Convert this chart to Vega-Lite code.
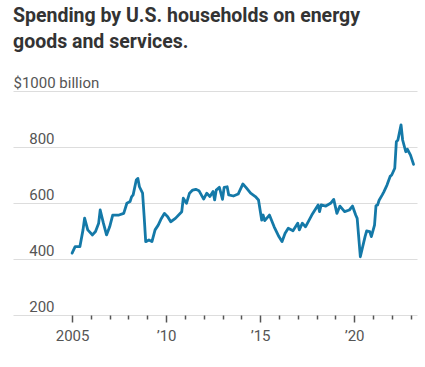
{
  "$schema": "https://vega.github.io/schema/vega-lite/v6.json",
  "width": 404,
  "height": 224,
  "autosize": "none",
  "padding": {"left": 13, "top": 91, "right": 8, "bottom": 52},
  "background": "white",
  "config": {"view": {"stroke": null}},
  "title": {
    "text": ["Spending by U.S. households on energy", "goods and services."],
    "font": "Roboto",
    "fontSize": 19.5,
    "fontWeight": "bold",
    "color": "#333333",
    "lineHeight": 26,
    "anchor": "start",
    "frame": "group",
    "offset": 23
  },
  "data": {
    "values": [
      {"date": "2005-01-01", "value": 421},
      {"date": "2005-03-01", "value": 444},
      {"date": "2005-06-01", "value": 444},
      {"date": "2005-08-01", "value": 504},
      {"date": "2005-09-01", "value": 546},
      {"date": "2005-11-01", "value": 504},
      {"date": "2006-02-01", "value": 486},
      {"date": "2006-04-01", "value": 498},
      {"date": "2006-06-01", "value": 528},
      {"date": "2006-07-01", "value": 575},
      {"date": "2006-09-01", "value": 528},
      {"date": "2006-11-01", "value": 486},
      {"date": "2007-01-01", "value": 515},
      {"date": "2007-03-01", "value": 557},
      {"date": "2007-07-01", "value": 557},
      {"date": "2007-10-01", "value": 563},
      {"date": "2007-12-01", "value": 599},
      {"date": "2008-02-01", "value": 605},
      {"date": "2008-03-01", "value": 622},
      {"date": "2008-04-01", "value": 629},
      {"date": "2008-06-01", "value": 682},
      {"date": "2008-07-01", "value": 688},
      {"date": "2008-08-01", "value": 658},
      {"date": "2008-10-01", "value": 635},
      {"date": "2008-11-01", "value": 551},
      {"date": "2008-12-01", "value": 462},
      {"date": "2009-02-01", "value": 468},
      {"date": "2009-04-01", "value": 462},
      {"date": "2009-06-01", "value": 504},
      {"date": "2009-08-01", "value": 521},
      {"date": "2009-10-01", "value": 545},
      {"date": "2009-12-01", "value": 563},
      {"date": "2010-02-01", "value": 551},
      {"date": "2010-04-01", "value": 533},
      {"date": "2010-07-01", "value": 545},
      {"date": "2010-11-01", "value": 569},
      {"date": "2010-12-01", "value": 617},
      {"date": "2011-02-01", "value": 599},
      {"date": "2011-04-01", "value": 635},
      {"date": "2011-06-01", "value": 646},
      {"date": "2011-08-01", "value": 649},
      {"date": "2011-10-01", "value": 644},
      {"date": "2012-01-01", "value": 614},
      {"date": "2012-03-01", "value": 635},
      {"date": "2012-05-01", "value": 623},
      {"date": "2012-07-01", "value": 641},
      {"date": "2012-08-01", "value": 611},
      {"date": "2012-09-01", "value": 646},
      {"date": "2012-11-01", "value": 656},
      {"date": "2013-01-01", "value": 613},
      {"date": "2013-02-01", "value": 656},
      {"date": "2013-04-01", "value": 658},
      {"date": "2013-05-01", "value": 629},
      {"date": "2013-08-01", "value": 625},
      {"date": "2013-11-01", "value": 632},
      {"date": "2014-02-01", "value": 668},
      {"date": "2014-04-01", "value": 656},
      {"date": "2014-07-01", "value": 635},
      {"date": "2014-10-01", "value": 623},
      {"date": "2014-12-01", "value": 611},
      {"date": "2015-02-01", "value": 539},
      {"date": "2015-03-01", "value": 557},
      {"date": "2015-04-01", "value": 537},
      {"date": "2015-07-01", "value": 557},
      {"date": "2015-10-01", "value": 515},
      {"date": "2016-01-01", "value": 480},
      {"date": "2016-03-01", "value": 462},
      {"date": "2016-05-01", "value": 492},
      {"date": "2016-07-01", "value": 510},
      {"date": "2016-10-01", "value": 501},
      {"date": "2017-01-01", "value": 528},
      {"date": "2017-02-01", "value": 504},
      {"date": "2017-04-01", "value": 528},
      {"date": "2017-06-01", "value": 515},
      {"date": "2017-10-01", "value": 557},
      {"date": "2018-02-01", "value": 593},
      {"date": "2018-03-01", "value": 569},
      {"date": "2018-04-01", "value": 593},
      {"date": "2018-07-01", "value": 589},
      {"date": "2018-10-01", "value": 599},
      {"date": "2018-12-01", "value": 613},
      {"date": "2019-02-01", "value": 563},
      {"date": "2019-04-01", "value": 589},
      {"date": "2019-07-01", "value": 569},
      {"date": "2019-10-01", "value": 575},
      {"date": "2019-12-01", "value": 589},
      {"date": "2020-02-01", "value": 557},
      {"date": "2020-03-01", "value": 545},
      {"date": "2020-05-01", "value": 408},
      {"date": "2020-08-01", "value": 480},
      {"date": "2020-09-01", "value": 500},
      {"date": "2020-11-01", "value": 498},
      {"date": "2020-12-01", "value": 480},
      {"date": "2021-02-01", "value": 521},
      {"date": "2021-03-01", "value": 590},
      {"date": "2021-04-01", "value": 593},
      {"date": "2021-05-01", "value": 610},
      {"date": "2021-07-01", "value": 629},
      {"date": "2021-08-01", "value": 640},
      {"date": "2021-10-01", "value": 664},
      {"date": "2021-12-01", "value": 695},
      {"date": "2022-01-01", "value": 700},
      {"date": "2022-03-01", "value": 724},
      {"date": "2022-04-01", "value": 819},
      {"date": "2022-05-01", "value": 825},
      {"date": "2022-07-01", "value": 879},
      {"date": "2022-08-01", "value": 825},
      {"date": "2022-10-01", "value": 783},
      {"date": "2022-11-01", "value": 792},
      {"date": "2023-01-01", "value": 771},
      {"date": "2023-03-01", "value": 738}
    ]
  },
  "mark": {"type": "line", "color": "#1479a8", "strokeWidth": 2.8, "strokeJoin": "round", "strokeCap": "round"},
  "encoding": {
    "x": {
      "field": "date",
      "type": "temporal",
      "scale": {"domain": ["2001-11-10", "2023-05-07"]},
      "axis": {
        "title": null,
        "domain": false,
        "grid": false,
        "values": [{"year": 2005}, {"year": 2006}, {"year": 2007}, {"year": 2008}, {"year": 2009}, {"year": 2010}, {"year": 2011}, {"year": 2012}, {"year": 2013}, {"year": 2014}, {"year": 2015}, {"year": 2016}, {"year": 2017}, {"year": 2018}, {"year": 2019}, {"year": 2020}, {"year": 2021}, {"year": 2022}, {"year": 2023}],
        "labelExpr": "year(datum.value) == 2005 ? '2005' : (year(datum.value) % 5 == 0 ? '’' + substring(toString(year(datum.value)), 2) : '')",
        "tickSize": {"condition": {"test": "year(datum.value) % 5 == 0", "value": 7}, "value": 4},
        "tickColor": "#555555",
        "tickWidth": 1.5,
        "labelFont": "Roboto",
        "labelFontSize": 15,
        "labelColor": "#555555",
        "labelPadding": 6,
        "labelFlush": false,
        "labelOverlap": false
      }
    },
    "y": {
      "field": "value",
      "type": "quantitative",
      "scale": {"domain": [200, 1000]},
      "axis": {
        "title": null,
        "domain": false,
        "ticks": false,
        "grid": true,
        "gridColor": "#dddddd",
        "gridWidth": 1,
        "values": [200, 400, 600, 800, 1000],
        "labelExpr": "datum.value == 1000 ? '$1000 billion' : datum.label",
        "labelFont": "Roboto",
        "labelFontSize": 15,
        "labelColor": "#555555",
        "labelBaseline": "alphabetic",
        "labelOffset": -4,
        "labelAlign": {"condition": {"test": "datum.value == 1000", "value": "left"}, "value": "right"},
        "labelPadding": {"condition": {"test": "datum.value == 1000", "value": 0}, "value": -41},
        "labelFlush": false,
        "labelOverlap": false
      }
    }
  }
}
